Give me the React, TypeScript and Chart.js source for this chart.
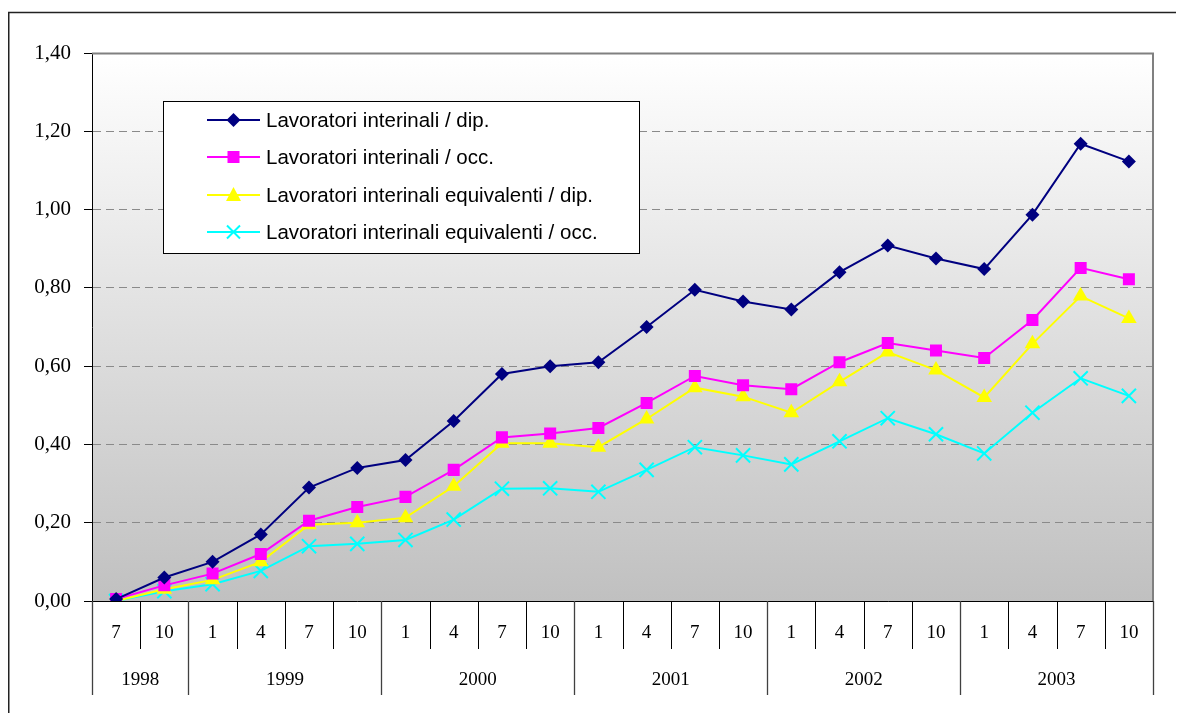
import React, { useEffect, useRef } from "react";
import { Chart, registerables } from "chart.js";

Chart.register(...registerables);

const monthLabels = ["7", "10", "1", "4", "7", "10", "1", "4", "7", "10", "1", "4", "7", "10", "1", "4", "7", "10", "1", "4", "7", "10"];
const yearLabels = ["1998", "1999", "2000", "2001", "2002", "2003"];
const yearSpans = [2, 4, 4, 4, 4, 4];

const interinaliDip = [0.005, 0.06, 0.1, 0.17, 0.29, 0.34, 0.36, 0.46, 0.58, 0.6, 0.61, 0.7, 0.795, 0.765, 0.745, 0.84, 0.908, 0.875, 0.848, 0.987, 1.168, 1.123];
const interinaliOcc = [0.005, 0.04, 0.07, 0.12, 0.205, 0.24, 0.266, 0.335, 0.418, 0.428, 0.442, 0.506, 0.575, 0.551, 0.541, 0.61, 0.659, 0.64, 0.621, 0.718, 0.851, 0.822];
const equivalentiDip = [0.0, 0.03, 0.054, 0.1, 0.195, 0.2, 0.213, 0.293, 0.403, 0.403, 0.393, 0.465, 0.545, 0.522, 0.481, 0.56, 0.636, 0.59, 0.52, 0.657, 0.779, 0.722];
const equivalentiOcc = [0.0, 0.025, 0.043, 0.077, 0.14, 0.146, 0.156, 0.208, 0.287, 0.288, 0.279, 0.335, 0.393, 0.372, 0.349, 0.408, 0.467, 0.426, 0.377, 0.481, 0.569, 0.524];

const seriesNames = [
  "Lavoratori interinali / dip.",
  "Lavoratori interinali / occ.",
  "Lavoratori interinali equivalenti / dip.",
  "Lavoratori interinali equivalenti / occ.",
];
const seriesColors = ["#000080", "#ff00ff", "#ffff00", "#00ffff"];
const seriesStyles = ["rectRot", "rect", "triangle", "crossRot"];
const seriesRadius = [7, 8.5, 9, 10];

const yMin = 0;
const yMax = 1.4;
const yStep = 0.2;

const SERIF = "'Liberation Serif', 'Times New Roman', serif";
const SANS = "'Liberation Sans', Arial, sans-serif";

function drawMarker(ctx: CanvasRenderingContext2D, style: string, x: number, y: number, color: string) {
  ctx.save();
  ctx.fillStyle = color;
  ctx.strokeStyle = color;
  ctx.beginPath();
  if (style === "rectRot") {
    ctx.moveTo(x, y - 7);
    ctx.lineTo(x + 7, y);
    ctx.lineTo(x, y + 7);
    ctx.lineTo(x - 7, y);
    ctx.closePath();
    ctx.fill();
  } else if (style === "rect") {
    ctx.rect(x - 6, y - 6, 12, 12);
    ctx.fill();
  } else if (style === "triangle") {
    ctx.moveTo(x, y - 8);
    ctx.lineTo(x + 7.5, y + 6);
    ctx.lineTo(x - 7.5, y + 6);
    ctx.closePath();
    ctx.fill();
  } else {
    ctx.lineWidth = 2;
    ctx.moveTo(x - 6.5, y - 6.5);
    ctx.lineTo(x + 6.5, y + 6.5);
    ctx.moveTo(x + 6.5, y - 6.5);
    ctx.lineTo(x - 6.5, y + 6.5);
    ctx.stroke();
  }
  ctx.restore();
}

const decorPlugin = {
  id: "decor",
  beforeDraw(chart: any) {
    const { ctx, chartArea } = chart;
    const g = ctx.createLinearGradient(0, chartArea.top, 0, chartArea.bottom);
    g.addColorStop(0, "#ffffff");
    g.addColorStop(1, "#c0c0c0");
    ctx.save();
    ctx.fillStyle = g;
    ctx.fillRect(chartArea.left, chartArea.top, chartArea.right - chartArea.left, chartArea.bottom - chartArea.top);
    // outer frame
    ctx.strokeStyle = "#222222";
    ctx.lineWidth = 1.5;
    ctx.beginPath();
    ctx.moveTo(0.75, chart.height + 5);
    ctx.lineTo(0.75, 4.5);
    ctx.lineTo(chart.width + 5, 4.5);
    ctx.stroke();
    ctx.restore();
  },
  afterDraw(chart: any) {
    const { ctx, chartArea } = chart;
    const xs = chart.scales.x;
    const n = monthLabels.length;
    const w = (xs.right - xs.left) / n;
    const bottom = chartArea.bottom;
    ctx.save();
    // plot frame top & right (gray)
    ctx.strokeStyle = "#808080";
    ctx.lineWidth = 2;
    ctx.beginPath();
    ctx.moveTo(chartArea.left, chartArea.top + 0.5);
    ctx.lineTo(chartArea.right, chartArea.top + 0.5);
    ctx.lineTo(chartArea.right, bottom);
    ctx.stroke();

    // category table lines
    const yearBounds = new Set<number>();
    let acc = 0;
    yearBounds.add(0);
    yearSpans.forEach((s) => {
      acc += s;
      yearBounds.add(acc);
    });
    for (let i = 0; i <= n; i++) {
      const x = Math.round(xs.left + i * w) + 0.5;
      const isYear = yearBounds.has(i);
      ctx.lineWidth = isYear ? 1.3 : 1;
      ctx.strokeStyle = isYear ? "#404040" : "#000000";
      ctx.beginPath();
      ctx.moveTo(x, bottom);
      ctx.lineTo(x, isYear ? bottom + 94 : bottom + 48);
      ctx.stroke();
    }
    // year labels
    ctx.fillStyle = "#000000";
    ctx.font = `19px ${SERIF}`;
    ctx.textAlign = "center";
    ctx.textBaseline = "middle";
    let start = 0;
    yearLabels.forEach((yl, k) => {
      const span = yearSpans[k];
      const cx = xs.left + (start + span / 2) * w;
      ctx.fillText(yl, cx, bottom + 79);
      start += span;
    });

    // legend
    const lx = 155, ly = 93, lw = 476, lh = 152;
    ctx.fillStyle = "#ffffff";
    ctx.fillRect(lx, ly, lw, lh);
    ctx.strokeStyle = "#000000";
    ctx.lineWidth = 1;
    ctx.strokeRect(lx + 0.5, ly + 0.5, lw, lh);
    const rows = [112, 149, 187, 224];
    seriesNames.forEach((name, i) => {
      const y = rows[i];
      ctx.strokeStyle = seriesColors[i];
      ctx.lineWidth = 2;
      ctx.beginPath();
      ctx.moveTo(199, y);
      ctx.lineTo(252, y);
      ctx.stroke();
      drawMarker(ctx, seriesStyles[i], 225.5, y, seriesColors[i]);
      ctx.fillStyle = "#000000";
      ctx.font = `20.5px ${SANS}`;
      ctx.textAlign = "left";
      ctx.textBaseline = "middle";
      ctx.fillText(name, 258, y + 1);
    });
    ctx.restore();
  },
};

export default function App() {
  const ref = useRef<HTMLCanvasElement | null>(null);
  useEffect(() => {
    if (!ref.current) return;
    const values = [interinaliDip, interinaliOcc, equivalentiDip, equivalentiOcc];
    const chart = new Chart(ref.current, {
      type: "line",
      data: {
        labels: monthLabels,
        datasets: values.map((v, i) => ({
          label: seriesNames[i],
          data: v,
          borderColor: seriesColors[i],
          backgroundColor: seriesColors[i],
          pointBackgroundColor: seriesColors[i],
          pointBorderColor: seriesColors[i],
          pointStyle: seriesStyles[i] as any,
          pointRadius: seriesRadius[i],
          pointBorderWidth: seriesStyles[i] === "crossRot" ? 2 : 0,
          borderWidth: 2,
          tension: 0,
          fill: false,
        })),
      },
      options: {
        animation: false,
        responsive: false,
        maintainAspectRatio: false,
        layout: { padding: { left: 0, top: 45, right: 31, bottom: 0 } },
        plugins: { legend: { display: false }, tooltip: { enabled: false } },
        scales: {
          x: {
            type: "category",
            offset: true,
            grid: { display: false, drawTicks: false },
            border: { display: true, color: "#000000", width: 1 },
            ticks: {
              color: "#000000",
              font: { family: SERIF, size: 19 },
              padding: 21,
              maxRotation: 0,
              autoSkip: false,
            },
            afterFit(scale: any) {
              scale.height = 112;
            },
          },
          y: {
            min: yMin,
            max: yMax,
            grid: {
              color: "#8a8a8a",
              lineWidth: 1,
              drawTicks: true,
              tickLength: 8,
              tickColor: "#000000",
              tickBorderDash: [],
            },
            border: { display: true, color: "#000000", width: 1, dash: [8, 5] },
            ticks: {
              stepSize: yStep,
              color: "#000000",
              font: { family: SERIF, size: 21 },
              padding: 13,
              callback: (v: any) => Number(v).toFixed(2).replace(".", ","),
            },
            afterFit(scale: any) {
              scale.width = 84;
            },
          },
        },
      },
      plugins: [decorPlugin],
    });
    return () => chart.destroy();
  }, []);
  return (
    <div style={{ width: 1176, height: 705 }}>
      <canvas ref={ref} width={1176} height={705} style={{ display: "block" }} />
    </div>
  );
}
